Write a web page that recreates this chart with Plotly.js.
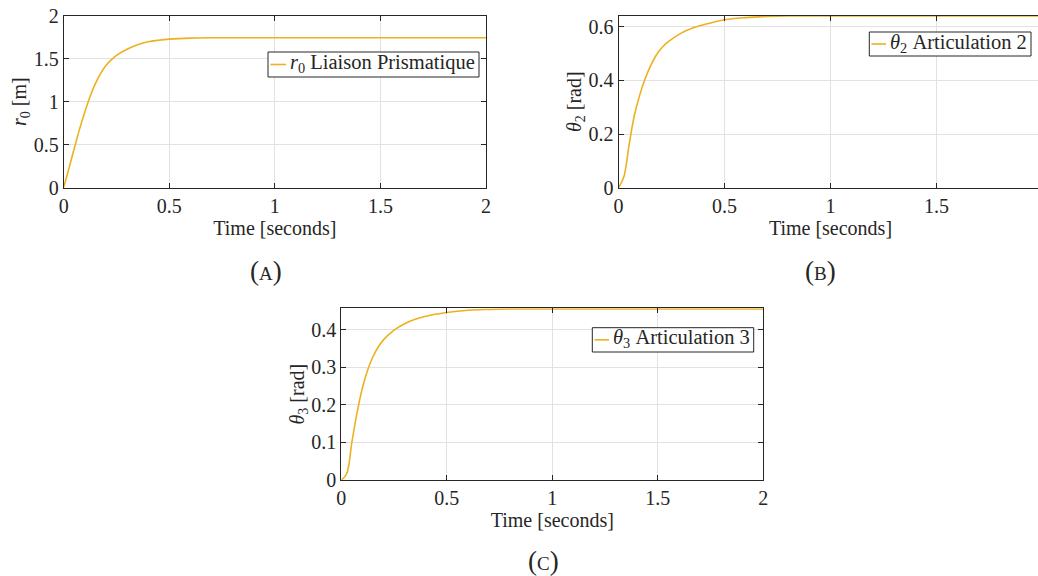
<!DOCTYPE html>
<html><head><meta charset="utf-8">
<script src="https://cdn.plot.ly/plotly-3.0.1.min.js"></script>
<style>html,body{margin:0;padding:0;overflow:hidden;width:1038px;height:576px;background:#fff}#chart{width:1070px;height:576px}</style>
</head><body><div id="chart"></div>
<script>
// Time samples [s] and responses
const timeA = [0, 0.025, 0.05, 0.075, 0.1, 0.125, 0.15, 0.175, 0.2, 0.225, 0.25, 0.3, 0.35, 0.4, 0.45, 0.5, 0.6, 0.7, 0.8, 1.0, 1.5, 2.0];
const r0 =    [0, 0.225, 0.455, 0.68, 0.88, 1.06, 1.21, 1.33, 1.422, 1.487, 1.538, 1.61, 1.663, 1.698, 1.716, 1.728, 1.740, 1.744, 1.745, 1.745, 1.745, 1.745];
const timeB = [0, 0.025, 0.05, 0.075, 0.1, 0.125, 0.15, 0.175, 0.2, 0.225, 0.25, 0.3, 0.35, 0.4, 0.5, 0.6, 0.7, 0.8, 1.0, 1.5, 2.0];
const theta2 = [0, 0.04, 0.16, 0.27, 0.345, 0.405, 0.452, 0.49, 0.518, 0.538, 0.553, 0.578, 0.595, 0.607, 0.626, 0.634, 0.638, 0.64, 0.64, 0.64, 0.64];
const timeC = [0, 0.025, 0.05, 0.075, 0.1, 0.125, 0.15, 0.175, 0.2, 0.225, 0.25, 0.3, 0.35, 0.4, 0.5, 0.6, 0.7, 0.8, 1.0, 1.5, 2.0];
const theta3 = [0, 0.016, 0.1, 0.18, 0.245, 0.293, 0.328, 0.354, 0.373, 0.387, 0.399, 0.416, 0.428, 0.436, 0.446, 0.452, 0.454, 0.455, 0.455, 0.455, 0.455];
const xTicks = [0, 0.5, 1, 1.5, 2];
const yTicksA = [0, 0.5, 1, 1.5, 2];
const yTicksB = [0, 0.2, 0.4, 0.6];
const yTicksC = [0, 0.1, 0.2, 0.3, 0.4];
const names = ['<i>r</i><sub>0</sub> Liaison Prismatique', '<i>θ</i><sub>2</sub> Articulation 2', '<i>θ</i><sub>3</sub> Articulation 3'];
const panelLabels = ['(a)', '(b)', '(c)'];

const W = 1070, H = 576;
const fx = p => p / W, fy = p => 1 - p / H;
const col = '#EDB120', ink = '#262626', grid = '#e2e2e2';
const FONT = '"Liberation Serif", "Times New Roman", serif';
const FS = 20;

function ax(domain, range, tickvals, title, standoff) {
  return {
    domain: domain, range: range, tickvals: tickvals, autorange: false,
    showgrid: true, gridcolor: grid, gridwidth: 1, zeroline: false,
    showline: true, linecolor: ink, linewidth: 1, mirror: 'allticks',
    ticks: 'inside', ticklen: 5, tickcolor: ink, tickwidth: 1,
    ticklabeloverflow: 'allow',
    tickfont: {family: FONT, size: FS, color: ink},
    title: {text: title, font: {family: FONT, size: FS, color: ink}, standoff: standoff},
    automargin: false, fixedrange: true
  };
}

const lineStyle = {color: col, width: 1.6, shape: 'spline', smoothing: 1};
const traces = [
  {x: timeA, y: r0, xaxis: 'x', yaxis: 'y', name: names[0], mode: 'lines', line: lineStyle},
  {x: timeB, y: theta2, xaxis: 'x2', yaxis: 'y2', name: names[1], mode: 'lines', line: lineStyle},
  {x: timeC, y: theta3, xaxis: 'x3', yaxis: 'y3', name: names[2], mode: 'lines', line: lineStyle}
];

// legend boxes (drawn as shapes + text) : [left, right, top, bottom, lineStart, lineEnd, textStart]
const legBoxes = [
  [268, 479, 52, 77, 270.5, 286, 287.5],
  [869.3, 1031, 32, 56, 871.5, 886, 887.5],
  [592.3, 753.7, 327.7, 352, 594.5, 609, 610.5]
];
const shapes = [], annotations = [];
legBoxes.forEach((b, i) => {
  const yc = (b[2] + b[3]) / 2;
  shapes.push({type: 'rect', xref: 'paper', yref: 'paper', x0: fx(b[0]), x1: fx(b[1]), y0: fy(b[3]), y1: fy(b[2]),
    line: {color: ink, width: 1}, fillcolor: '#fff', layer: 'above'});
  shapes.push({type: 'line', xref: 'paper', yref: 'paper', x0: fx(b[4]), x1: fx(b[5]), y0: fy(yc), y1: fy(yc),
    line: {color: col, width: 1.6}, layer: 'above'});
  annotations.push({text: names[i], xref: 'paper', yref: 'paper', x: fx(b[6]), y: fy(yc - 1), xanchor: 'left', yanchor: 'middle',
    showarrow: false, font: {family: FONT, size: 20.5, color: ink}});
});
const labelPos = [[265.5, 271], [820, 271], [543, 561]];
labelPos.forEach((p, i) => {
  annotations.push({text: panelLabels[i], xref: 'paper', yref: 'paper', x: fx(p[0]), y: fy(p[1]), xanchor: 'center', yanchor: 'middle',
    showarrow: false, font: {family: FONT, size: 27, color: ink, variant: 'small-caps'}});
});

const layout = {
  width: W, height: H, margin: {l: 0, r: 0, t: 0, b: 0}, showlegend: false,
  paper_bgcolor: '#fff', plot_bgcolor: '#fff',
  xaxis: Object.assign(ax([fx(63.7), fx(486)], [0, 2], xTicks, 'Time [seconds]', 2), {anchor: 'y'}),
  yaxis: Object.assign(ax([fy(187.5), fy(15.8)], [0, 2], yTicksA, '<i>r</i><sub>0</sub> [m]', 1), {anchor: 'x'}),
  xaxis2: Object.assign(ax([fx(618.5), fx(1042.5)], [0, 2], xTicks, 'Time [seconds]', 2), {anchor: 'y2'}),
  yaxis2: Object.assign(ax([fy(187.7), fy(15.7)], [0, 0.641], yTicksB, '<i>θ</i><sub>2</sub> [rad]', 1), {anchor: 'x2'}),
  xaxis3: Object.assign(ax([fx(341.3), fx(763.3)], [0, 2], xTicks, 'Time [seconds]', 2), {anchor: 'y3'}),
  yaxis3: Object.assign(ax([fy(480), fy(308.3)], [0, 0.457], yTicksC, '<i>θ</i><sub>3</sub> [rad]', 1), {anchor: 'x3'}),
  shapes: shapes,
  annotations: annotations
};

Plotly.newPlot('chart', traces, layout, {staticPlot: true, displayModeBar: false});
</script></body></html>
